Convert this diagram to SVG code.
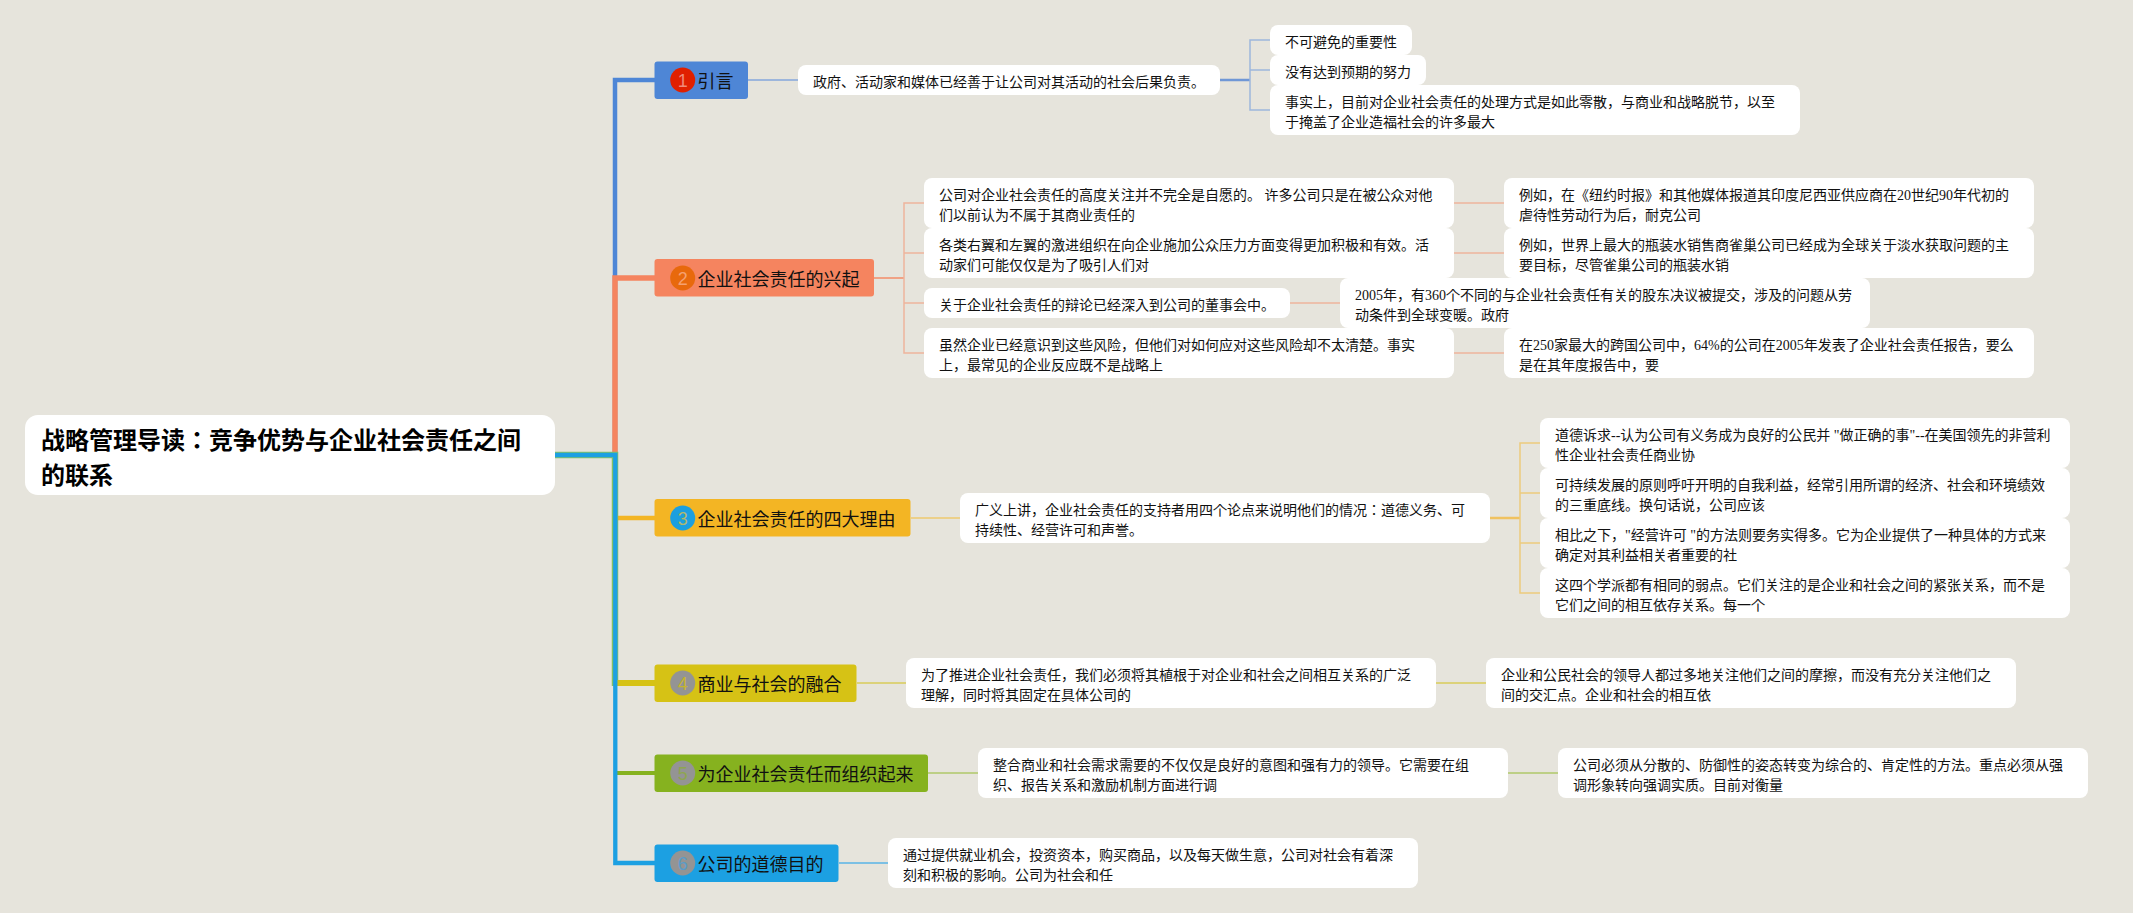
<svg xmlns="http://www.w3.org/2000/svg" width="2133" height="913" viewBox="0 0 2133 913">
<style>
.leaf{fill:#fff}
.t{font-family:"Liberation Serif","Noto Sans CJK JP",serif;font-size:14px;fill:#111}
.h{font-family:"Liberation Serif","Noto Sans CJK JP",sans-serif;font-size:18px;fill:#111}
.r{font-family:"Liberation Sans","Noto Sans CJK JP",sans-serif;font-size:24px;font-weight:700;fill:#000}
.d{font-family:"Liberation Sans",sans-serif;font-size:18px;text-anchor:middle}
.c{fill:none;stroke-linejoin:miter}
</style>
<rect width="2133" height="913" fill="#e6e4dc"/>
<g id="connectors">
<path class="c" d="M555 455H615V80H655" stroke="#4e86d6" stroke-width="4.5"/>
<path class="c" d="M555 455H615V278H655" stroke="#f5845f" stroke-width="5.5"/>
<path class="c" d="M555 455H615V518H655" stroke="#f3b524" stroke-width="4.5"/>
<path class="c" d="M555 455H615V686" stroke="#82c067" stroke-width="6.5"/>
<path class="c" d="M615 683H655" stroke="#d6c215" stroke-width="6"/>
<path class="c" d="M615 773H655" stroke="#86b21f" stroke-width="4"/>
<path class="c" d="M555 455H615.3V863H655" stroke="#1ca0e2" stroke-width="4.3"/>

<path class="c" d="M748 80H798" stroke="#9db6dc" stroke-width="2"/>
<path class="c" d="M1220 80H1250" stroke="#6f97d6" stroke-width="2.5"/>
<path class="c" d="M1270 40H1250V110H1270M1250 70H1270" stroke="#9db6dc" stroke-width="1.5"/>

<path class="c" d="M874 278H904" stroke="#f0a285" stroke-width="2"/>
<path class="c" d="M924 203H904V353H924M904 253H924M904 303H924" stroke="#eeb49c" stroke-width="1.5"/>
<path class="c" d="M1454 203H1504M1454 253H1504M1454 353H1504M1290 303H1340" stroke="#eeb49c" stroke-width="1.5"/>

<path class="c" d="M911 518H960" stroke="#ecd08a" stroke-width="2"/>
<path class="c" d="M1490 518H1520" stroke="#f0c260" stroke-width="2.5"/>
<path class="c" d="M1540 443H1520V593H1540M1520 493H1540M1520 543H1540" stroke="#edca7c" stroke-width="1.5"/>

<path class="c" d="M857 683H906M1436 683H1486" stroke="#dcd27a" stroke-width="2"/>
<path class="c" d="M928 773H978M1508 773H1558" stroke="#bdcf86" stroke-width="2"/>
<path class="c" d="M839 863H888" stroke="#7cc0e4" stroke-width="2"/>
</g>

<g id="root">
<rect x="25" y="415" width="530" height="80" rx="13" class="leaf"/>
<text class="r" x="41" y="449">战略管理导读：竞争优势与企业社会责任之间</text>
<text class="r" x="41" y="483.5">的联系</text>
</g>

<g id="branch-1">
<rect x="654.5" y="61.5" width="93.5" height="37.5" rx="3" fill="#4e86d6"/>
<circle cx="682.7" cy="80" r="12.5" fill="#e02000"/>
<text class="d" x="682.7" y="86.5" fill="#f08a7a">1</text>
<text class="h" x="697.5" y="88">引言</text>
</g>
<g id="branch-2">
<rect x="654.5" y="259" width="219.5" height="37.5" rx="3" fill="#f5845f"/>
<circle cx="682.7" cy="278" r="12.5" fill="#e8690c"/>
<text class="d" x="682.7" y="284.5" fill="#f5a070">2</text>
<text class="h" x="697.5" y="286">企业社会责任的兴起</text>
</g>
<g id="branch-3">
<rect x="654.5" y="499" width="256" height="37.5" rx="3" fill="#f3b524"/>
<circle cx="682.7" cy="518" r="12.5" fill="#1c9fdf"/>
<text class="d" x="682.7" y="524.5" fill="#b0b870">3</text>
<text class="h" x="697.5" y="526">企业社会责任的四大理由</text>
</g>
<g id="branch-4">
<rect x="654.5" y="664.5" width="202" height="37.5" rx="3" fill="#d6c215"/>
<circle cx="682.7" cy="683" r="12.5" fill="#949494"/>
<text class="d" x="682.7" y="689.5" fill="#c4b430">4</text>
<text class="h" x="697.5" y="691">商业与社会的融合</text>
</g>
<g id="branch-5">
<rect x="654.5" y="754.5" width="273.5" height="37.5" rx="3" fill="#86b21f"/>
<circle cx="682.7" cy="773" r="12.5" fill="#949494"/>
<text class="d" x="682.7" y="779.5" fill="#8ea650">5</text>
<text class="h" x="697.5" y="781">为企业社会责任而组织起来</text>
</g>
<g id="branch-6">
<rect x="654.5" y="844.5" width="184" height="37.5" rx="3" fill="#1ca0e2"/>
<circle cx="682.7" cy="863" r="12.5" fill="#949494"/>
<text class="d" x="682.7" y="869.5" fill="#5a9cc8">6</text>
<text class="h" x="697.5" y="871">公司的道德目的</text>
</g>

<g id="n1">
<rect class="leaf" x="798" y="65" width="422" height="30" rx="8"/>
<text class="t" x="813" y="86.5">政府、活动家和媒体已经善于让公司对其活动的社会后果负责。</text>
</g>
<g id="n1a">
<rect class="leaf" x="1270" y="25" width="142" height="30" rx="8"/>
<text class="t" x="1285" y="46.5">不可避免的重要性</text>
</g>
<g id="n1b">
<rect class="leaf" x="1270" y="55" width="156" height="30" rx="8"/>
<text class="t" x="1285" y="76.5">没有达到预期的努力</text>
</g>
<g id="n1c">
<rect class="leaf" x="1270" y="85" width="530" height="50" rx="8"/>
<text class="t" x="1285" y="106.5">事实上，目前对企业社会责任的处理方式是如此零散，与商业和战略脱节，以至</text>
<text class="t" x="1285" y="126.5">于掩盖了企业造福社会的许多最大</text>
</g>

<g id="n2a">
<rect class="leaf" x="924" y="178" width="530" height="50" rx="8"/>
<text class="t" x="939" y="199.5">公司对企业社会责任的高度关注并不完全是自愿的。 许多公司只是在被公众对他</text>
<text class="t" x="939" y="219.5">们以前认为不属于其商业责任的</text>
</g>
<g id="n2a1">
<rect class="leaf" x="1504" y="178" width="530" height="50" rx="8"/>
<text class="t" x="1519" y="199.5">例如，在《纽约时报》和其他媒体报道其印度尼西亚供应商在20世纪90年代初的</text>
<text class="t" x="1519" y="219.5">虐待性劳动行为后，耐克公司</text>
</g>
<g id="n2b">
<rect class="leaf" x="924" y="228" width="530" height="50" rx="8"/>
<text class="t" x="939" y="249.5">各类右翼和左翼的激进组织在向企业施加公众压力方面变得更加积极和有效。活</text>
<text class="t" x="939" y="269.5">动家们可能仅仅是为了吸引人们对</text>
</g>
<g id="n2b1">
<rect class="leaf" x="1504" y="228" width="530" height="50" rx="8"/>
<text class="t" x="1519" y="249.5">例如，世界上最大的瓶装水销售商雀巢公司已经成为全球关于淡水获取问题的主</text>
<text class="t" x="1519" y="269.5">要目标，尽管雀巢公司的瓶装水销</text>
</g>
<g id="n2c">
<rect class="leaf" x="924" y="288" width="366" height="30" rx="8"/>
<text class="t" x="939" y="309.5">关于企业社会责任的辩论已经深入到公司的董事会中。</text>
</g>
<g id="n2c1">
<rect class="leaf" x="1340" y="278" width="530" height="50" rx="8"/>
<text class="t" x="1355" y="299.5">2005年，有360个不同的与企业社会责任有关的股东决议被提交，涉及的问题从劳</text>
<text class="t" x="1355" y="319.5">动条件到全球变暖。政府</text>
</g>
<g id="n2d">
<rect class="leaf" x="924" y="328" width="530" height="50" rx="8"/>
<text class="t" x="939" y="349.5">虽然企业已经意识到这些风险，但他们对如何应对这些风险却不太清楚。事实</text>
<text class="t" x="939" y="369.5">上，最常见的企业反应既不是战略上</text>
</g>
<g id="n2d1">
<rect class="leaf" x="1504" y="328" width="530" height="50" rx="8"/>
<text class="t" x="1519" y="349.5">在250家最大的跨国公司中，64%的公司在2005年发表了企业社会责任报告，要么</text>
<text class="t" x="1519" y="369.5">是在其年度报告中，要</text>
</g>

<g id="n3">
<rect class="leaf" x="960" y="493" width="530" height="50" rx="8"/>
<text class="t" x="975" y="514.5">广义上讲，企业社会责任的支持者用四个论点来说明他们的情况：道德义务、可</text>
<text class="t" x="975" y="534.5">持续性、经营许可和声誉。</text>
</g>
<g id="n3a">
<rect class="leaf" x="1540" y="418" width="530" height="50" rx="8"/>
<text class="t" x="1555" y="439.5">道德诉求--认为公司有义务成为良好的公民并 "做正确的事"--在美国领先的非营利</text>
<text class="t" x="1555" y="459.5">性企业社会责任商业协</text>
</g>
<g id="n3b">
<rect class="leaf" x="1540" y="468" width="530" height="50" rx="8"/>
<text class="t" x="1555" y="489.5">可持续发展的原则呼吁开明的自我利益，经常引用所谓的经济、社会和环境绩效</text>
<text class="t" x="1555" y="509.5">的三重底线。换句话说，公司应该</text>
</g>
<g id="n3c">
<rect class="leaf" x="1540" y="518" width="530" height="50" rx="8"/>
<text class="t" x="1555" y="539.5">相比之下，"经营许可 "的方法则要务实得多。它为企业提供了一种具体的方式来</text>
<text class="t" x="1555" y="559.5">确定对其利益相关者重要的社</text>
</g>
<g id="n3d">
<rect class="leaf" x="1540" y="568" width="530" height="50" rx="8"/>
<text class="t" x="1555" y="589.5">这四个学派都有相同的弱点。它们关注的是企业和社会之间的紧张关系，而不是</text>
<text class="t" x="1555" y="609.5">它们之间的相互依存关系。每一个</text>
</g>

<g id="n4">
<rect class="leaf" x="906" y="658" width="530" height="50" rx="8"/>
<text class="t" x="921" y="679.5">为了推进企业社会责任，我们必须将其植根于对企业和社会之间相互关系的广泛</text>
<text class="t" x="921" y="699.5">理解，同时将其固定在具体公司的</text>
</g>
<g id="n4a">
<rect class="leaf" x="1486" y="658" width="530" height="50" rx="8"/>
<text class="t" x="1501" y="679.5">企业和公民社会的领导人都过多地关注他们之间的摩擦，而没有充分关注他们之</text>
<text class="t" x="1501" y="699.5">间的交汇点。企业和社会的相互依</text>
</g>
<g id="n5">
<rect class="leaf" x="978" y="748" width="530" height="50" rx="8"/>
<text class="t" x="993" y="769.5">整合商业和社会需求需要的不仅仅是良好的意图和强有力的领导。它需要在组</text>
<text class="t" x="993" y="789.5">织、报告关系和激励机制方面进行调</text>
</g>
<g id="n5a">
<rect class="leaf" x="1558" y="748" width="530" height="50" rx="8"/>
<text class="t" x="1573" y="769.5">公司必须从分散的、防御性的姿态转变为综合的、肯定性的方法。重点必须从强</text>
<text class="t" x="1573" y="789.5">调形象转向强调实质。目前对衡量</text>
</g>
<g id="n6">
<rect class="leaf" x="888" y="838" width="530" height="50" rx="8"/>
<text class="t" x="903" y="859.5">通过提供就业机会，投资资本，购买商品，以及每天做生意，公司对社会有着深</text>
<text class="t" x="903" y="879.5">刻和积极的影响。公司为社会和任</text>
</g>
</svg>
